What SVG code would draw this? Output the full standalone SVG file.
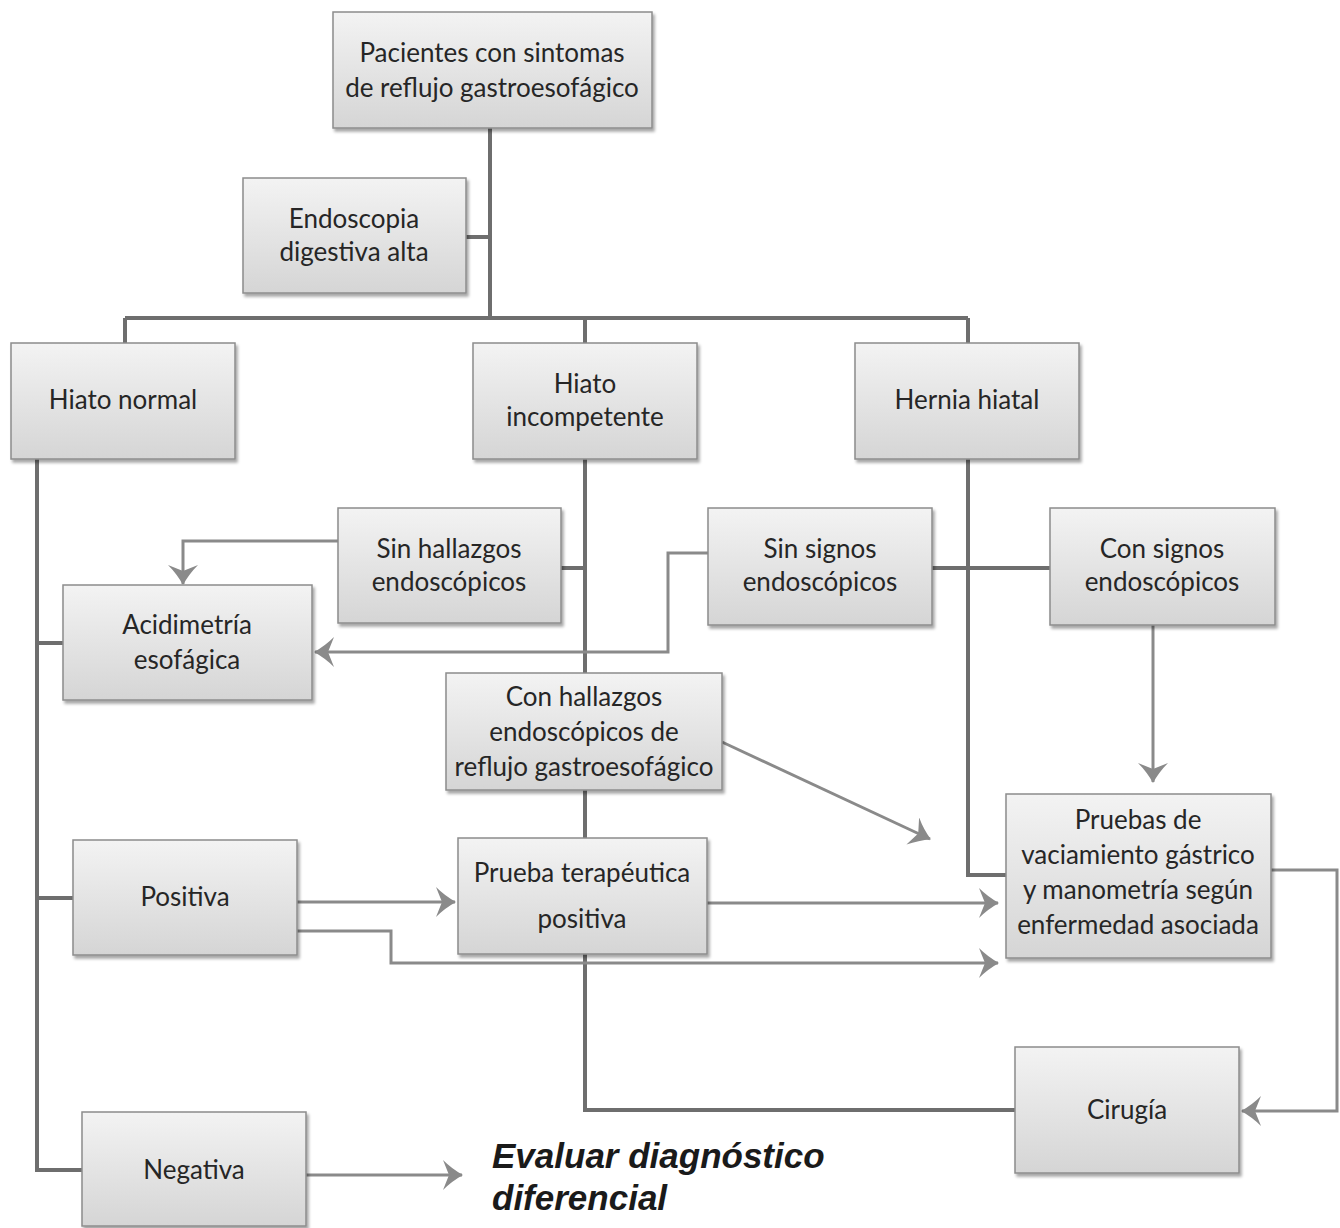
<svg xmlns="http://www.w3.org/2000/svg" width="1340" height="1228" viewBox="0 0 1340 1228">
<defs>
<linearGradient id="g" x1="0" y1="0" x2="0" y2="1">
<stop offset="0" stop-color="#f3f3f3"/>
<stop offset="1" stop-color="#d5d5d5"/>
</linearGradient>
<filter id="sh" x="-10%" y="-10%" width="125%" height="130%">
<feDropShadow dx="2" dy="3" stdDeviation="1.6" flood-color="#000" flood-opacity="0.35"/>
</filter>
<marker id="ah" markerUnits="userSpaceOnUse" viewBox="0 0 20 30" markerWidth="20" markerHeight="30" refX="19" refY="15" orient="auto">
<path d="M0,0 Q9,9 20,15 Q9,21 0,30 L6,15 Z" fill="#8a8a8a"/>
</marker>
<style>
.box{fill:url(#g);stroke:#8c8c8c;stroke-width:1.5;filter:url(#sh)}
.t{font-family:Lato,"Open Sans","Liberation Sans",sans-serif;font-size:26px;fill:#262626;text-anchor:middle}
.tree{fill:none;stroke:#6e6e6e;stroke-width:4}
.arr{fill:none;stroke:#8a8a8a;stroke-width:3;marker-end:url(#ah)}
.big{font-family:"Liberation Sans",Arial,sans-serif;font-size:35px;font-weight:bold;font-style:italic;fill:#1a1a1a}
</style>
</defs>
<rect width="1340" height="1228" fill="#fff"/>
<g id="connectors">
<path class="tree" d="M490,128 V318"/>
<path class="tree" d="M466,237 H490"/>
<path class="tree" d="M125,318 H968"/>
<path class="tree" d="M125,318 V343 M585,318 V343 M968,318 V343"/>
<path class="tree" d="M37,459 V1170 H82"/>
<path class="tree" d="M37,643 H63 M37,898 H73"/>
<path class="tree" d="M585,459 V673 M561,568 H585"/>
<path class="tree" d="M585,790 V838"/>
<path class="tree" d="M932,568 H1050"/>
<path class="tree" d="M968,459 V875 H1006"/>
<path class="tree" d="M585,954 V1110 H1015"/>
<path class="arr" d="M338,541 H183 V584"/>
<path class="arr" d="M708,553 H668 V652 H315"/>
<path class="arr" d="M1153,625 V782"/>
<path class="arr" d="M722,742 L930,839"/>
<path class="arr" d="M707,903 H998"/>
<path class="arr" d="M297,902 H455"/>
<path class="arr" d="M297,931 H391 V963 H998"/>
<path class="arr" d="M1271,870 H1337 V1111 H1242"/>
<path class="arr" d="M306,1175 H462"/>
</g>
<g id="n1"><rect class="box" x="333" y="12" width="319" height="116"/><text class="t" x="492" y="62">Pacientes con sintomas</text><text class="t" x="492" y="97">de reflujo gastroesofágico</text></g>
<g id="n2"><rect class="box" x="243" y="178" width="223" height="115"/><text class="t" x="354" y="228">Endoscopia</text><text class="t" x="354" y="261">digestiva alta</text></g>
<g id="n3"><rect class="box" x="11" y="343" width="224" height="116"/><text class="t" x="123" y="409">Hiato normal</text></g>
<g id="n4"><rect class="box" x="473" y="343" width="224" height="116"/><text class="t" x="585" y="393">Hiato</text><text class="t" x="585" y="426">incompetente</text></g>
<g id="n5"><rect class="box" x="855" y="343" width="224" height="116"/><text class="t" x="967" y="409">Hernia hiatal</text></g>
<g id="n6"><rect class="box" x="338" y="508" width="223" height="115"/><text class="t" x="449" y="558">Sin hallazgos</text><text class="t" x="449" y="591">endoscópicos</text></g>
<g id="n7"><rect class="box" x="63" y="585" width="249" height="115"/><text class="t" x="187" y="634">Acidimetría</text><text class="t" x="187" y="669">esofágica</text></g>
<g id="n8"><rect class="box" x="708" y="508" width="224" height="117"/><text class="t" x="820" y="558">Sin signos</text><text class="t" x="820" y="591">endoscópicos</text></g>
<g id="n9"><rect class="box" x="1050" y="508" width="225" height="117"/><text class="t" x="1162" y="558">Con signos</text><text class="t" x="1162" y="591">endoscópicos</text></g>
<g id="n10"><rect class="box" x="446" y="673" width="276" height="117"/><text class="t" x="584" y="706">Con hallazgos</text><text class="t" x="584" y="741">endoscópicos de</text><text class="t" x="584" y="776">reflujo gastroesofágico</text></g>
<g id="n11"><rect class="box" x="73" y="840" width="224" height="115"/><text class="t" x="185" y="906">Positiva</text></g>
<g id="n12"><rect class="box" x="458" y="838" width="249" height="116"/><text class="t" x="582" y="882">Prueba terapéutica</text><text class="t" x="582" y="928">positiva</text></g>
<g id="n13"><rect class="box" x="1006" y="794" width="265" height="164"/><text class="t" x="1138" y="829">Pruebas de</text><text class="t" x="1138" y="864">vaciamiento gástrico</text><text class="t" x="1138" y="899">y manometría según</text><text class="t" x="1138" y="934">enfermedad asociada</text></g>
<g id="n14"><rect class="box" x="1015" y="1047" width="224" height="126"/><text class="t" x="1127" y="1119">Cirugía</text></g>
<g id="n15"><rect class="box" x="82" y="1112" width="224" height="114"/><text class="t" x="194" y="1179">Negativa</text></g>
<g id="n16"><text class="big" x="492" y="1168">Evaluar diagnóstico</text><text class="big" x="492" y="1210">diferencial</text></g>
</svg>
